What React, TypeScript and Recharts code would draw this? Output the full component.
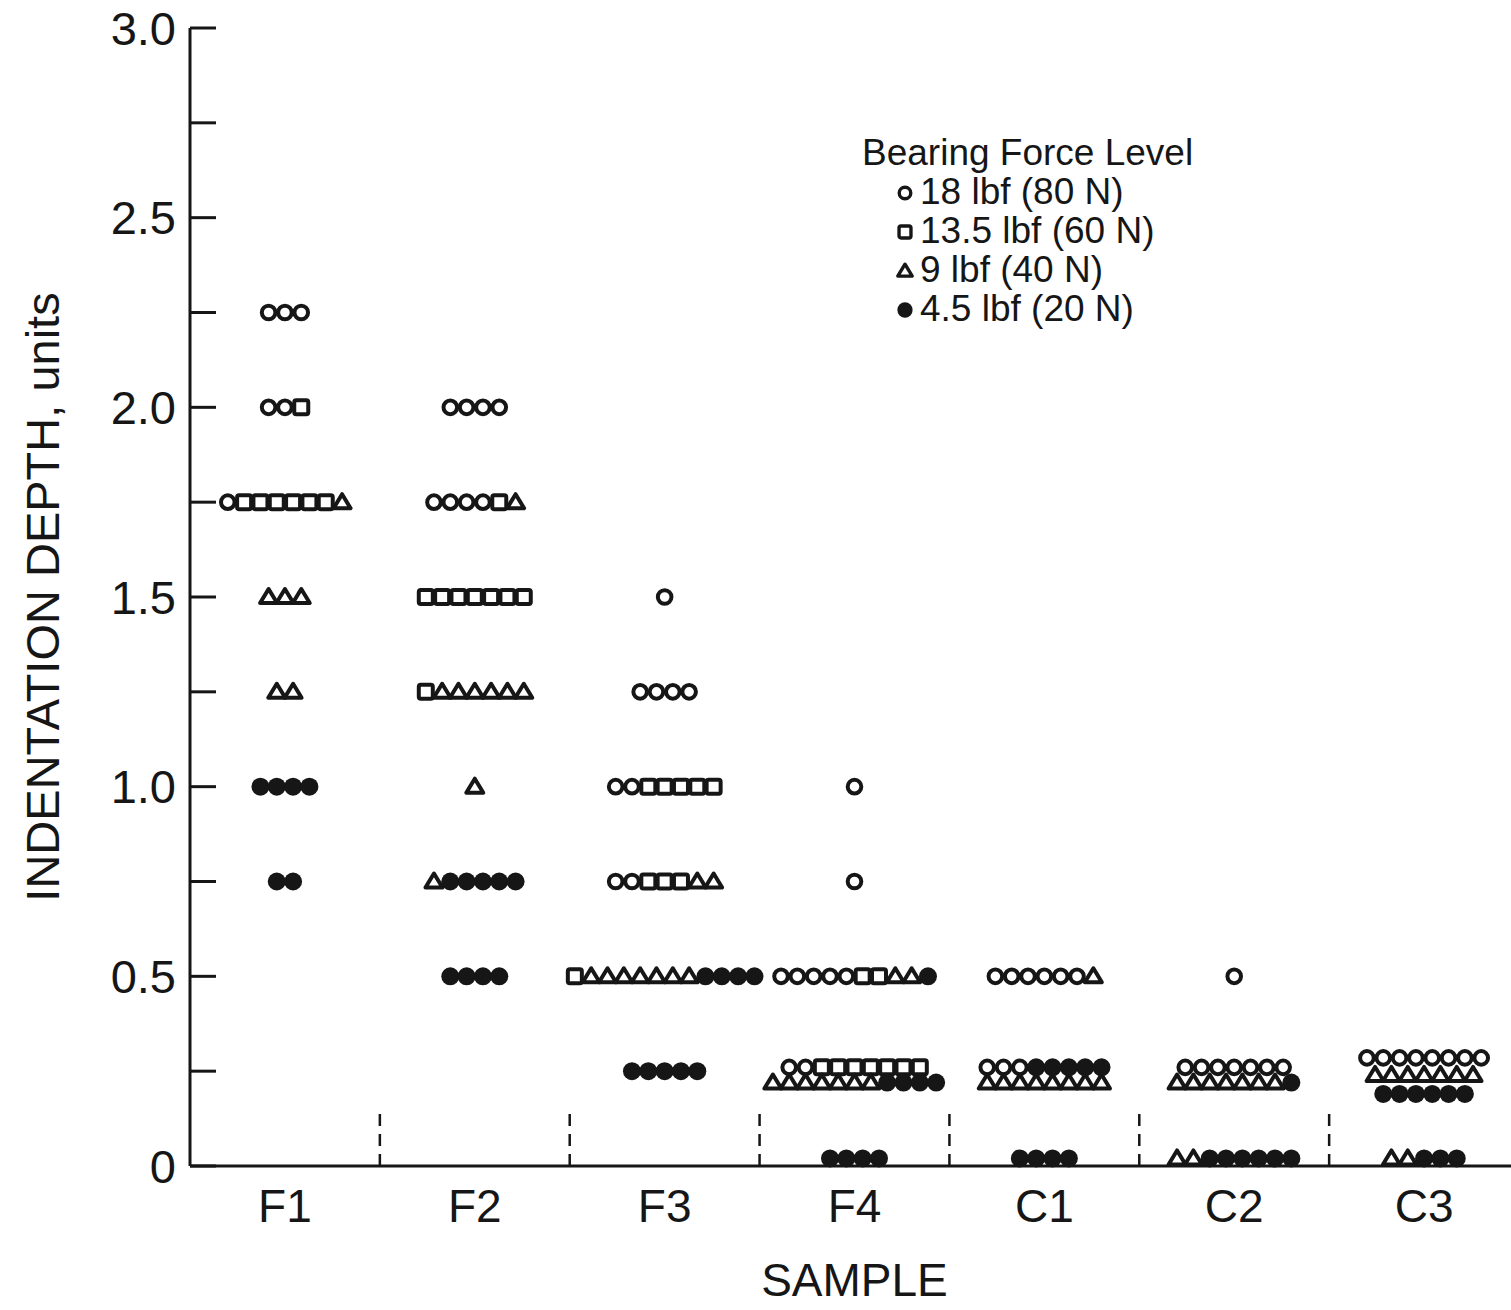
import React from "react";
import {
  Label,
  ReferenceLine,
  Scatter,
  ScatterChart,
  XAxis,
  YAxis,
} from "recharts";

const FONT = '"Liberation Sans", Arial, sans-serif';
const INK = "#161616";

const samples = ["F1", "F2", "F3", "F4", "C1", "C2", "C3"];
const yTicks = [0, 0.25, 0.5, 0.75, 1, 1.25, 1.5, 1.75, 2, 2.25, 2.5, 2.75, 3];

// [sample, indentation depth, number of specimens at that depth]
const lbf18: [string, number, number][] = [
  ["F1", 2.25, 3], ["F1", 2.0, 2], ["F1", 1.75, 1],
  ["F2", 2.0, 4], ["F2", 1.75, 4],
  ["F3", 1.5, 1], ["F3", 1.25, 4], ["F3", 1.0, 2], ["F3", 0.75, 2],
  ["F4", 1.0, 1], ["F4", 0.75, 1], ["F4", 0.5, 5], ["F4", 0.26, 2],
  ["C1", 0.5, 6], ["C1", 0.26, 3],
  ["C2", 0.5, 1], ["C2", 0.26, 7],
  ["C3", 0.285, 8],
];

const lbf13: [string, number, number][] = [
  ["F1", 2.0, 1], ["F1", 1.75, 6],
  ["F2", 1.75, 1], ["F2", 1.5, 7], ["F2", 1.25, 1],
  ["F3", 1.0, 5], ["F3", 0.75, 3], ["F3", 0.5, 1],
  ["F4", 0.5, 2], ["F4", 0.26, 7],
];

const lbf9: [string, number, number][] = [
  ["F1", 1.75, 1], ["F1", 1.5, 3], ["F1", 1.25, 2],
  ["F2", 1.75, 1], ["F2", 1.25, 6], ["F2", 1.0, 1], ["F2", 0.75, 1],
  ["F3", 0.75, 2], ["F3", 0.5, 7],
  ["F4", 0.5, 2], ["F4", 0.22, 7],
  ["C1", 0.5, 1], ["C1", 0.22, 8],
  ["C2", 0.22, 7], ["C2", 0.02, 2],
  ["C3", 0.24, 7], ["C3", 0.02, 2],
];

const lbf4: [string, number, number][] = [
  ["F1", 1.0, 4], ["F1", 0.75, 2],
  ["F2", 0.75, 5], ["F2", 0.5, 4],
  ["F3", 0.5, 4], ["F3", 0.25, 5],
  ["F4", 0.5, 1], ["F4", 0.22, 4], ["F4", 0.02, 4],
  ["C1", 0.26, 5], ["C1", 0.02, 4],
  ["C2", 0.22, 1], ["C2", 0.02, 6],
  ["C3", 0.19, 6], ["C3", 0.02, 3],
];

const seriesDefs = [
  { name: "18 lbf (80 N)", rows: lbf18, kind: "circle" },
  { name: "13.5 lbf (60 N)", rows: lbf13, kind: "square" },
  { name: "9 lbf (40 N)", rows: lbf9, kind: "triangle" },
  { name: "4.5 lbf (20 N)", rows: lbf4, kind: "dot" },
];

// horizontal step between neighbouring markers in a row, in category units
const STEP = 0.086;

// lay markers of one sample/depth row side by side, centred on the sample
function buildPoints() {
  const rowTotals = new Map<string, number>();
  seriesDefs.forEach((s) =>
    s.rows.forEach(([smp, d, n]) => {
      const k = smp + "|" + d;
      rowTotals.set(k, (rowTotals.get(k) || 0) + n);
    })
  );
  const used = new Map<string, number>();
  return seriesDefs.map((s) => {
    const pts: { x: number; y: number }[] = [];
    s.rows.forEach(([smp, d, n]) => {
      const k = smp + "|" + d;
      const total = rowTotals.get(k) || n;
      let pos = used.get(k) || 0;
      for (let i = 0; i < n; i++) {
        const off = (pos - (total - 1) / 2) * STEP;
        pts.push({ x: samples.indexOf(smp) + 1 + off, y: d });
        pos++;
      }
      used.set(k, pos);
    });
    return pts;
  });
}

const seriesPoints = buildPoints();

function Marker({ kind, cx, cy, scale = 1 }: any) {
  const sw = 4 * scale;
  if (kind === "circle")
    return <circle cx={cx} cy={cy} r={6.8 * scale} fill="#fff" stroke={INK} strokeWidth={sw} />;
  if (kind === "square")
    return (
      <rect
        x={cx - 7 * scale}
        y={cy - 7 * scale}
        width={14 * scale}
        height={14 * scale}
        rx={2}
        fill="#fff"
        stroke={INK}
        strokeWidth={sw}
      />
    );
  if (kind === "triangle") {
    const h = 8 * scale;
    const w = 8.5 * scale;
    return (
      <path
        d={`M${cx},${cy - h} L${cx + w},${cy + 6 * scale} L${cx - w},${cy + 6 * scale} Z`}
        fill="#fff"
        stroke={INK}
        strokeWidth={sw}
        strokeLinejoin="round"
      />
    );
  }
  return <circle cx={cx} cy={cy} r={9 * scale} fill={INK} />;
}

function LegendBox() {
  return (
    <div
      style={{
        position: "absolute",
        left: 862,
        top: 133,
        fontFamily: FONT,
        fontSize: 37,
        color: INK,
        lineHeight: "39px",
      }}
    >
      <div>Bearing Force Level</div>
      {seriesDefs.map((s) => (
        <div key={s.name} style={{ display: "flex", alignItems: "center", paddingLeft: 32 }}>
          <svg width={22} height={22} style={{ marginRight: 4 }}>
            <Marker kind={s.kind} cx={11} cy={12} scale={0.85} />
          </svg>
          <span>{s.name}</span>
        </div>
      ))}
    </div>
  );
}

export default function App() {
  const tickStyle = { fontSize: 47, fill: INK, fontFamily: FONT };
  return (
    <div
      style={{
        position: "absolute",
        left: 0,
        top: 0,
        width: 1511,
        height: 1310,
        overflow: "hidden",
        background: "#fff",
      }}
    >
      <ScatterChart width={1537} height={1310} margin={{ top: 28, right: 0, bottom: 0, left: 0 }}>
        <XAxis
          type="number"
          dataKey="x"
          domain={[0.5, 7.5]}
          ticks={[1, 2, 3, 4, 5, 6, 7]}
          tickFormatter={(v: number) => samples[v - 1]}
          allowDataOverflow
          height={144}
          tickLine={false}
          tickSize={8}
          tickMargin={15}
          tick={{ ...tickStyle, fontSize: 46 }}
          axisLine={{ stroke: INK, strokeWidth: 3 }}
        >
          <Label
            value="SAMPLE"
            position="insideBottom"
            offset={14}
            style={{ fontSize: 46, fill: INK, fontFamily: FONT }}
          />
        </XAxis>
        <XAxis
          xAxisId="top"
          orientation="top"
          type="number"
          domain={[0.5, 7.5]}
          height={0}
          tick={false}
          tickLine={false}
          axisLine={{ stroke: INK, strokeWidth: 3 }}
        />
        <YAxis
          type="number"
          dataKey="y"
          domain={[0, 3]}
          ticks={yTicks}
          interval={0}
          width={190}
          tickSize={-26}
          tickMargin={40}
          tickFormatter={(v: number) => (v === 0 ? "0" : (v * 2) % 1 === 0 ? v.toFixed(1) : "")}
          tick={tickStyle}
          tickLine={{ stroke: INK, strokeWidth: 3 }}
          axisLine={{ stroke: INK, strokeWidth: 3 }}
        >
          <Label
            content={(p: any) => {
              const vb = p.viewBox || { y: 28, height: 1138 };
              const cy = vb.y + vb.height / 2;
              return (
                <text
                  x={42}
                  y={cy}
                  transform={`rotate(-90, 42, ${cy})`}
                  textAnchor="middle"
                  dominantBaseline="central"
                  style={{ fontSize: 47, fill: INK, fontFamily: FONT }}
                >
                  INDENTATION DEPTH, units
                </text>
              );
            }}
          />
        </YAxis>
        <YAxis
          yAxisId="right"
          orientation="right"
          type="number"
          domain={[0, 3]}
          ticks={yTicks}
          interval={0}
          width={18}
          tickSize={-26}
          tick={false}
          tickLine={{ stroke: INK, strokeWidth: 3 }}
          axisLine={{ stroke: INK, strokeWidth: 3 }}
        />
        {[1.5, 2.5, 3.5, 4.5, 5.5, 6.5].map((x) => (
          <ReferenceLine
            key={x}
            segment={[
              { x, y: 0 },
              { x, y: 0.15 },
            ]}
            stroke={INK}
            strokeWidth={2.5}
            strokeDasharray="12 8"
          />
        ))}
        {seriesDefs.map((s, i) => (
          <Scatter
            key={s.name}
            name={s.name}
            data={seriesPoints[i]}
            isAnimationActive={false}
            shape={(p: any) => <Marker kind={s.kind} cx={p.cx} cy={p.cy} />}
          />
        ))}
      </ScatterChart>
      <LegendBox />
    </div>
  );
}
